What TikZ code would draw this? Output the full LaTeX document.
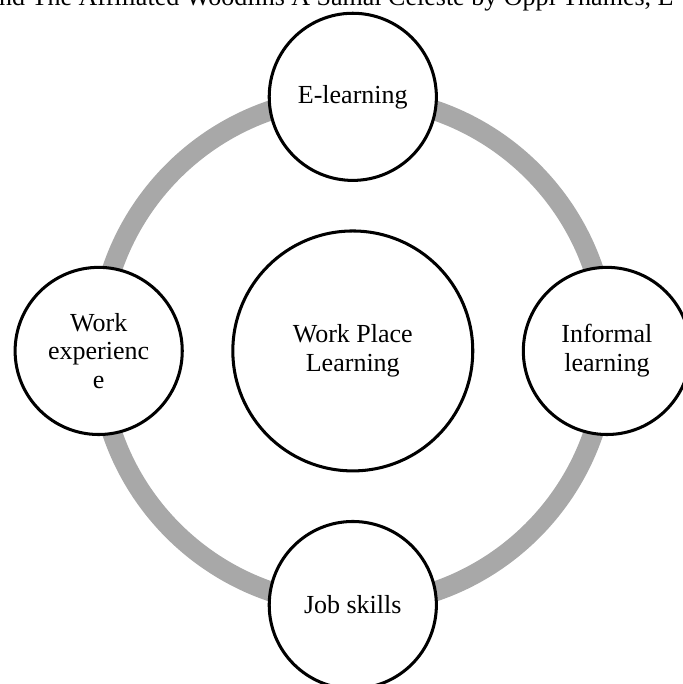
\documentclass[tikz,border=0pt]{standalone}
\usepackage{fontspec}
\setmainfont{Liberation Serif}
\usetikzlibrary{positioning}

\begin{document}
\begin{tikzpicture}[
  topic/.style={draw, circle, line width=1.4pt, fill=white, minimum size=2.71cm,
    inner sep=0pt, align=center, font=\fontsize{12}{13.2}\selectfont},
  hub/.style={topic, minimum size=3.89cm},
  ring/.style={draw=gray!68, line width=9.2pt}]

\useasboundingbox (-5.72,-5.40) rectangle (5.35,5.69);
\clip (-5.72,-5.40) rectangle (5.35,5.69);

% heading line, cut off at the top
\node[anchor=base west, inner sep=0pt, font=\fontsize{12}{13.2}\selectfont] (head) at (-5.74,5.60)
  {nd The Affiliated Woodlins A Samal Celeste by Oppi Thames, E};

% centre circle
\node[hub] (wpl) at (0,0) {Work Place\\Learning};

% grey ring behind the outer circles
\begin{scope}[on background layer/.try]
\draw[ring] (wpl.center) circle[radius=4.12cm];
\end{scope}

% outer circles on the ring
\node[topic] (elearn) at (0,4.12)  {E-learning};
\node[topic] (infl)   at (4.12,0)  {Informal\\learning};
\node[topic] (jobs)   at (0,-4.12) {Job skills};
\node[topic] (wexp)   at (-4.12,0) {Work\\experienc\\e};

\end{tikzpicture}
\end{document}
